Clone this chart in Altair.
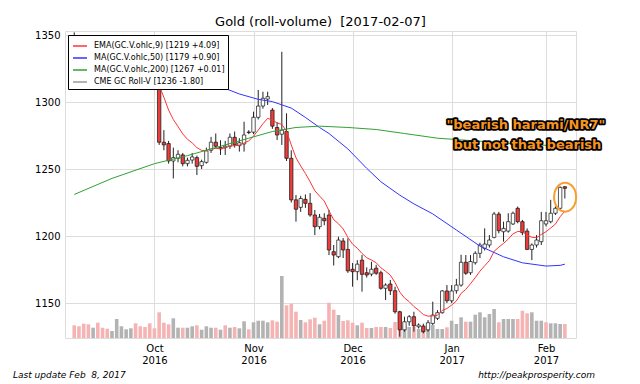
import altair as alt
import pandas as pd

# ---------------- data ----------------
# trading-day index 0 = 2016-09-08 ... 104 = 2017-02-07
opens = [1349, 1340, 1333, 1329, 1323, 1326, 1314, 1318, 1316, 1318,
         1331, 1338, 1340, 1342, 1330, 1325, 1321, 1316, 1315, 1270,
         1269, 1256, 1258, 1260.5, 1254, 1256.7, 1258.5, 1252.5, 1255, 1264,
         1270, 1266.2, 1266, 1267, 1273.7, 1267.4, 1268.7, 1277.6, 1277.5, 1288.6,
         1297, 1302.2, 1294, 1281, 1276, 1278, 1258, 1227, 1221.4, 1227.4,
         1224.4, 1215.7, 1207, 1213.2, 1215.7, 1188.3, 1184.6, 1196.3, 1190, 1175.2,
         1173.4, 1182, 1172.6, 1171.6, 1176, 1172.6, 1161, 1164.2, 1159.2, 1143.5,
         1130, 1136, 1139.8, 1132.3, 1132.8, 1130, 1134.8, 1138.6, 1142.8, 1159,
         1151.7, 1159.2, 1163.4, 1180.4, 1172.6, 1180.1, 1187.1, 1190.8, 1193.3, 1199,
         1216.4, 1203.2, 1203.7, 1209, 1220.7, 1210.7, 1203.7, 1190, 1193.3, 1195.8,
         1209, 1210.7, 1217, 1220.7, 1236.8]
highs = [1352, 1342, 1335, 1331, 1328, 1327, 1317, 1320, 1320, 1334,
         1343, 1345, 1346, 1345, 1332, 1328, 1324, 1318, 1317, 1279,
         1271, 1266, 1264, 1262, 1258.5, 1262, 1260, 1257, 1266, 1274,
         1276.5, 1271.5, 1271, 1276.5, 1278, 1273, 1285.3, 1279, 1292.8, 1309,
         1307.7, 1307.7, 1295.5, 1285, 1337.5, 1291.6, 1264, 1230.6, 1230, 1231,
         1232, 1219.4, 1216.5, 1217, 1219.5, 1193.3, 1199.5, 1198.5, 1198.3, 1179.9,
         1182, 1185.8, 1176.6, 1180.8, 1178.5, 1174.2, 1164.7, 1167.2, 1162.2, 1144.2,
         1139.8, 1141, 1143.5, 1134.8, 1134.6, 1137.3, 1151, 1144.7, 1159.7, 1163.4,
         1163.4, 1168, 1186, 1185.8, 1185.8, 1188.6, 1195, 1205.7, 1200.7, 1218,
         1218, 1210.7, 1217, 1218.2, 1222, 1212, 1205.7, 1194.5, 1200.7, 1218,
         1218, 1227, 1222, 1237, 1237.2]
lows = [1337, 1326, 1322, 1319, 1320, 1311, 1311, 1313, 1314, 1316,
        1330, 1336, 1338, 1327, 1322, 1318, 1314, 1313, 1268, 1264,
        1254, 1243, 1255, 1252, 1252, 1254, 1245.5, 1250, 1254, 1262,
        1265.5, 1260.5, 1260.5, 1265, 1266, 1263, 1263, 1276, 1276, 1287,
        1295, 1297.8, 1280, 1271.6, 1268, 1256, 1225, 1210.7, 1218, 1221,
        1214.4, 1200.7, 1205, 1208, 1185.8, 1178, 1183.5, 1183.6, 1172.5, 1162.2,
        1167, 1158.5, 1169, 1170, 1171, 1159.9, 1152.2, 1156, 1142, 1124.9,
        1128.6, 1133, 1128.6, 1131, 1127.4, 1128.6, 1133.6, 1137.3, 1142, 1150,
        1150, 1157, 1162.2, 1171, 1171, 1178.7, 1183.6, 1189.2, 1191.4, 1198.3,
        1202, 1195.8, 1202.5, 1208.2, 1209.5, 1200.7, 1189.6, 1182, 1191.4, 1193.3,
        1207.2, 1209.5, 1215.7, 1219.5, 1228]
closes = [1340, 1334, 1329, 1323, 1326, 1314, 1312, 1316, 1318, 1331,
          1338, 1341, 1342, 1330, 1325, 1321, 1316, 1313, 1270, 1268,
          1256, 1258.5, 1261, 1254, 1256.5, 1259, 1252, 1255.5, 1263.5, 1270,
          1267, 1265, 1267, 1273.7, 1268, 1269.6, 1275.4, 1277.2, 1288.6, 1297,
          1302.8, 1304, 1282, 1275.4, 1279, 1258, 1227, 1220, 1228, 1224.4,
          1215.7, 1207, 1214, 1211.4, 1189.6, 1185.8, 1197, 1189.6, 1174, 1173.4,
          1179, 1171.4, 1170.9, 1175.2, 1172.2, 1161, 1163.4, 1159.2, 1143.5, 1130,
          1136, 1139.8, 1133, 1133.6, 1128.6, 1135.3, 1141, 1142.8, 1159, 1151.7,
          1159, 1163.4, 1180.4, 1172.2, 1181, 1187.1, 1193.3, 1194, 1197, 1216.4,
          1204, 1205.7, 1210.7, 1217, 1210.7, 1202.5, 1190, 1193.3, 1197, 1211.4,
          1211.4, 1217, 1220.7, 1236.3, 1235.6]
# roll volume, thousand contracts
volumes = [127, 117, 143, 137, 103, 153, 103, 93, 70, 190,
           117, 87, 97, 147, 117, 110, 147, 97, 257, 153,
           137, 197, 103, 103, 103, 117, 127, 83, 117, 103,
           103, 83, 127, 103, 110, 97, 167, 87, 157, 173,
           173, 157, 177, 163, 620, 327, 343, 263, 180, 157,
           187, 203, 137, 173, 353, 283, 230, 170, 177, 153,
           127, 153, 100, 100, 110, 110, 110, 100, 160, 240,
           120, 110, 110, 90, 100, 110, 130, 90, 90, 107,
           173, 140, 207, 163, 163, 233, 257, 207, 240, 290,
           157, 190, 190, 190, 190, 273, 247, 257, 173, 173,
           157, 147, 147, 140, 140]
vol_down = [1, 1, 1, 1, 0, 1, 1, 1, 0, 0,
            0, 0, 0, 1, 1, 1, 1, 1, 1, 1,
            1, 0, 0, 1, 0, 0, 1, 0, 0, 0,
            1, 0, 1, 0, 1, 0, 0, 1, 0, 0,
            0, 0, 1, 1, 0, 1, 1, 1, 0, 1,
            1, 1, 0, 1, 1, 1, 0, 1, 1, 1,
            0, 1, 1, 0, 1, 1, 0, 1, 1, 1,
            0, 0, 1, 0, 1, 0, 0, 0, 0, 1,
            0, 0, 0, 1, 0, 0, 0, 0, 0, 0,
            1, 0, 0, 0, 1, 1, 1, 0, 0, 0,
            1, 0, 0, 0, 1]

ema_start = 17
ema9 = [1323, 1312.4, 1303.5, 1294, 1286.9, 1281.7, 1276.2, 1272.2, 1269.5, 1266,
        1263.9, 1263.8, 1265, 1265.4, 1265.3, 1265.7, 1267.3, 1267.4, 1267.9, 1269.4,
        1271, 1274.5, 1279, 1283.8, 1287.8, 1286.6, 1284.4, 1283.3, 1278.2, 1268,
        1258.4, 1252.3, 1246.7, 1240.5, 1233.8, 1229.8, 1226.1, 1218.8, 1212.2, 1209.2,
        1205.3, 1199, 1193.9, 1190.9, 1187, 1183.8, 1182.1, 1180.1, 1176.3, 1173.7,
        1170.8, 1165.3, 1158.2, 1153.8, 1151, 1147.4, 1144.6, 1141.4, 1140.2, 1140.4,
        1140.9, 1144.5, 1145.9, 1148.5, 1151.5, 1157.2, 1160.2, 1164.4, 1168.9, 1173.8,
        1177.8, 1181.6, 1188.6, 1191.7, 1194.5, 1197.7, 1201.6, 1203.4, 1203.2, 1200.6,
        1199.1, 1198.7, 1201.2, 1203.2, 1206, 1208.9, 1214.4, 1218.6]
ma50_idx = [0, 8, 16, 24, 31, 35, 39, 42, 46, 49, 52, 54, 58, 62, 65, 69, 72, 76,
            81, 86, 91, 95, 100, 103, 104]
ma50_val = [1337, 1332, 1324, 1316, 1311.5, 1306, 1302, 1300.3, 1295.5, 1288.5,
            1281, 1276.5, 1265, 1250.5, 1240.5, 1230.5, 1224, 1216.5,
            1204.5, 1192.5, 1184.5, 1180, 1177.6, 1178.1, 1179]
ma200_idx = [0, 8, 17, 24, 31, 37, 42, 47, 52, 58, 64, 70, 77, 85, 95, 104]
ma200_val = [1231, 1243, 1254, 1260, 1267, 1273, 1278, 1281, 1282, 1281, 1279.5,
             1276.5, 1273, 1271, 1268.5, 1267]

series_names = ["EMA(GC.V.ohlc,9) [1219 +4.09]", "MA(GC.V.ohlc,50) [1179 +0.90]",
                "MA(GC.V.ohlc,200) [1267 +0.01]", "CME GC Roll-V [1236 -1.80]"]
series_colors = ["#ff3333", "#3333ff", "#33a033", "#999999"]

tick_idx = [17, 38, 59, 80, 100]
tick_month = ["Oct", "Nov", "Dec", "Jan", "Feb"]
tick_year = ["2016", "2016", "2016", "2017", "2017"]

title_text = "Gold (roll-volume) \u00a0[2017-02-07]"
note_lines = ['"bearish harami/NR7"', "but not that bearish"]
footer_left = "Last update Feb \u00a08, 2017"
footer_right = "http://peakprosperity.com"

# ---------------- tables ----------------
n = len(closes)
assert all(len(a) == n for a in (opens, highs, lows, volumes, vol_down))
assert len(ema9) == n - ema_start

candles = pd.DataFrame({"i": list(range(n)), "o": opens, "h": highs, "l": lows,
                        "c": closes, "vol": volumes, "vd": vol_down})

lines = pd.concat([
    pd.DataFrame({"i": list(range(ema_start, n)), "v": ema9, "s": series_names[0]}),
    pd.DataFrame({"i": ma50_idx, "v": ma50_val, "s": series_names[1]}),
    pd.DataFrame({"i": ma200_idx, "v": ma200_val, "s": series_names[2]}),
], ignore_index=True)

notes = pd.DataFrame({"i": [95.74, 96.05], "p": [1283.2, 1267.9], "t": note_lines})
mark_pt = pd.DataFrame({"i": [104.05], "p": [1229.0]})

# ---------------- scales / axes ----------------
label_expr = ""
for t, m, y in zip(tick_idx, tick_month, tick_year):
    label_expr += f"datum.value == {t} ? ['{m}', '{y}'] : "
label_expr += "''"

xscale = alt.Scale(domain=[-0.9, 105.3], nice=False, zero=False)
xaxis = alt.Axis(values=tick_idx, labelExpr=label_expr, grid=True, ticks=False,
                 domain=False, title=None, labelFontSize=10, labelFont="DejaVu Sans",
                 labelColor="black", labelPadding=5, labelLineHeight=12.5,
                 labelOverlap=False, labelFlush=False)
yscale = alt.Scale(domain=[1123.9, 1353], nice=False, zero=False)
yaxis = alt.Axis(values=[1150, 1200, 1250, 1300, 1350], format="d", grid=True,
                 ticks=False, domain=False, title=None, labelFontSize=10,
                 labelFont="DejaVu Sans", labelColor="black", labelPadding=5)

X = alt.X("i:Q", scale=xscale, axis=xaxis)

vol = alt.Chart(candles).mark_bar(size=3.6).encode(
    x=X,
    y=alt.Y("vol:Q", scale=alt.Scale(domain=[0, 3070], nice=False), axis=None),
    color=alt.condition("datum.vd == 1", alt.value("#f5b3b3"), alt.value("#b3b3b3")),
)

wicks = alt.Chart(candles).mark_rule(color="#222222", strokeWidth=1).encode(
    x=X, y=alt.Y("l:Q", scale=yscale, axis=yaxis), y2="h:Q")

bodies = alt.Chart(candles).mark_bar(size=3.4, stroke="#111111", strokeWidth=0.7).encode(
    x=X, y=alt.Y("o:Q", scale=yscale, axis=yaxis), y2="c:Q",
    fill=alt.condition("datum.c < datum.o", alt.value("#ee3b3b"), alt.value("white")),
)

mas = alt.Chart(lines).mark_line(strokeWidth=1).encode(
    x=X, y=alt.Y("v:Q", scale=yscale, axis=yaxis),
    color=alt.Color("s:N", scale=alt.Scale(domain=series_names, range=series_colors),
                    legend=alt.Legend(orient="none", legendX=3, legendY=4, title=None,
                                      fillColor="white", strokeColor="black",
                                      padding=3, symbolType="stroke", symbolSize=196,
                                      symbolStrokeWidth=1.5, symbolOffset=1,
                                      labelFontSize=8, labelFont="DejaVu Sans",
                                      labelColor="black", rowPadding=-3,
                                      labelOffset=6, labelLimit=400)),
    detail="s:N",
)

ring = alt.Chart(mark_pt).mark_point(
    shape="M -0.76 0 A 0.76 1 0 1 0 0.76 0 A 0.76 1 0 1 0 -0.76 0 Z",
    size=841, filled=False, stroke="#f7a030", strokeWidth=2, opacity=1,
).encode(x=X, y=alt.Y("p:Q", scale=yscale, axis=yaxis))

note_outline = alt.Chart(notes).mark_text(
    font="DejaVu Sans", fontWeight="bold", fontSize=13, align="center",
    baseline="middle", fill="black", stroke="black", strokeWidth=3.5,
    strokeJoin="round",
).encode(x=X, y=alt.Y("p:Q", scale=yscale, axis=yaxis), text="t:N")
note_fill = alt.Chart(notes).mark_text(
    font="DejaVu Sans", fontWeight="bold", fontSize=13, align="center",
    baseline="middle", fill="#f7931e",
).encode(x=X, y=alt.Y("p:Q", scale=yscale, axis=yaxis), text="t:N")

foot_l = alt.Chart(pd.DataFrame({"t": [footer_left]})).mark_text(
    font="DejaVu Sans", fontStyle="italic", fontSize=9, align="left",
    baseline="middle", color="black",
).encode(text="t:N", x=alt.value(-52), y=alt.value(344))
foot_r = alt.Chart(pd.DataFrame({"t": [footer_right]})).mark_text(
    font="DejaVu Sans", fontStyle="italic", fontSize=9, align="right",
    baseline="middle", color="black",
).encode(text="t:N", x=alt.value(530), y=alt.value(344))

price = alt.layer(wicks, bodies, mas, ring, note_outline, note_fill, foot_l, foot_r)

chart = alt.layer(vol, price).resolve_scale(y="independent").properties(
    width=511, height=307,
    padding={"left": 57, "top": 23, "right": 56, "bottom": 46},
    autosize=alt.AutoSizeParams(type="none"),
    title=alt.TitleParams(title_text, font="DejaVu Sans", fontSize=13,
                          fontWeight="normal", color="black", anchor="middle",
                          frame="group", baseline="alphabetic", offset=4, dy=13),
).configure_view(fill="#f5f5f5", stroke="black", strokeWidth=1
).configure_axis(gridColor="#d6d6d6", gridWidth=1
).configure(background="white")

chart.save("out.html", embed_options={"renderer": "svg", "actions": False})
